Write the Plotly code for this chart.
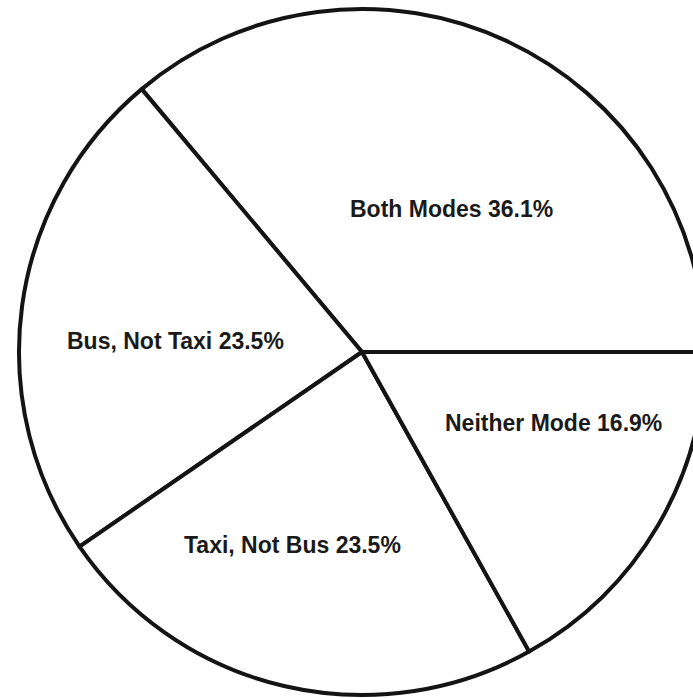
import plotly.graph_objects as go

# Survey shares of transport mode usage
categories = ["Both Modes", "Bus, Not Taxi", "Taxi, Not Bus", "Neither Mode"]
shares = [36.1, 23.5, 23.5, 16.9]

FIG_W, FIG_H = 720, 698

# Hand-placed label anchors (pixels from top-left), one per slice
label_anchor_px = [(451, 209), (175, 341), (292, 545), (553, 423)]

# Counterclockwise pies put the first slice clockwise of the rotation angle;
# rotate so that the first slice ends exactly at 3 o'clock.
start_angle = 90 - 360 * shares[0] / sum(shares)

fig = go.Figure(
    go.Pie(
        labels=categories,
        values=shares,
        sort=False,
        direction="counterclockwise",
        rotation=start_angle,
        hole=0,
        marker=dict(colors=["white"] * len(categories),
                    line=dict(color="#141414", width=4)),
        textinfo="none",
        hoverinfo="skip",
        showlegend=False,
        domain=dict(x=[19 / FIG_W, 705 / FIG_W], y=[3 / FIG_H, 689 / FIG_H]),
    )
)

for name, share, (px, py) in zip(categories, shares, label_anchor_px):
    fig.add_annotation(
        text=f"{name} {share:.1f}%",
        x=px / FIG_W,
        y=1 - py / FIG_H,
        xref="paper",
        yref="paper",
        xanchor="center",
        yanchor="middle",
        showarrow=False,
        font=dict(family="Liberation Sans", size=23, color="#1a1a1a",
                  weight="bold"),
    )

fig.update_layout(
    width=FIG_W,
    height=FIG_H,
    margin=dict(l=0, r=0, t=0, b=0),
    paper_bgcolor="white",
    plot_bgcolor="white",
)

fig.write_html(
    "out.html",
    post_script="document.body.style.margin='0';document.body.style.overflow='hidden';",
)
